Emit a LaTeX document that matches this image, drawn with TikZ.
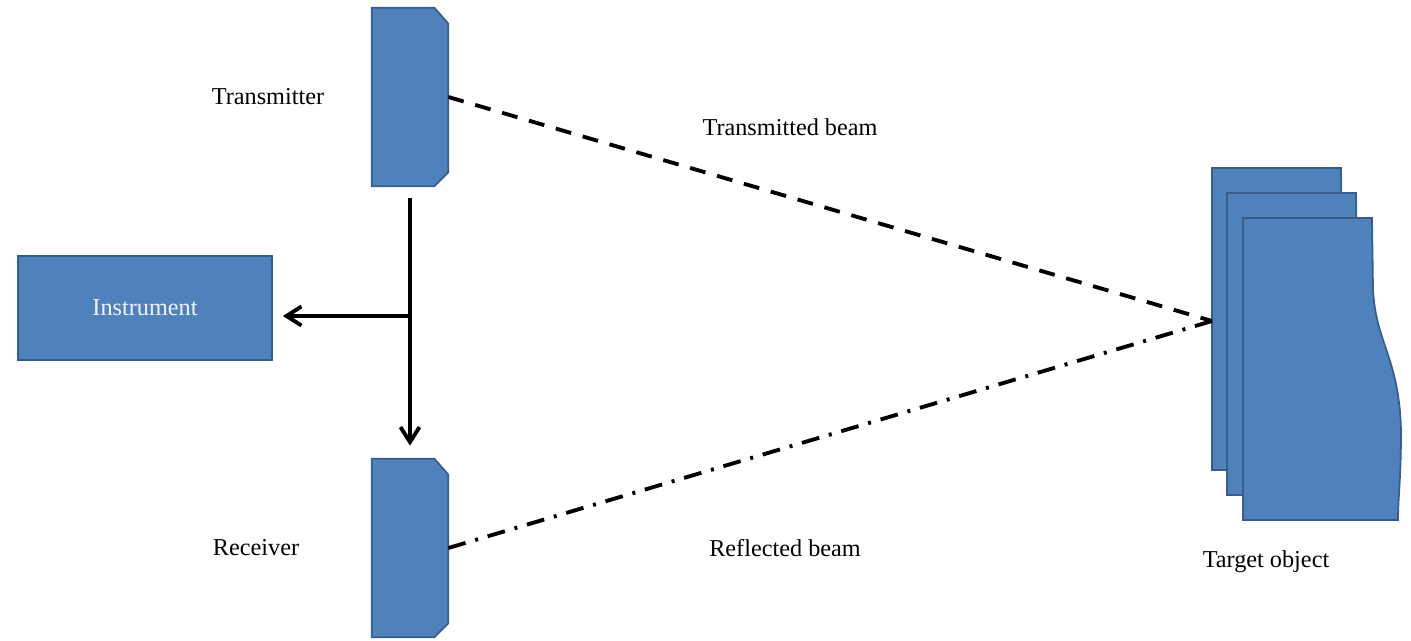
\documentclass[tikz,border=0pt]{standalone}
\usepackage{fontspec}
\setmainfont{Liberation Serif}
\usetikzlibrary{positioning, arrows.meta}
\definecolor{boxblue}{RGB}{79,129,189}
\definecolor{boxedge}{RGB}{56,93,138}
\tikzset{
    every node/.style={font=\fontsize{13.8}{16}\selectfont}, % Times-like labels
    lens/.style={rectangle, minimum width=1.52cm, minimum height=3.56cm, inner sep=0pt}, % sensor heads
    unit/.style={rectangle, draw=boxedge, fill=boxblue, line width=1pt,
        minimum width=5.08cm, minimum height=2.08cm, text=blue!5}, % instrument box
    sheet/.style={draw=boxedge, fill=boxblue, line width=1pt}, % target pages and heads
    signal/.style={line width=2pt, -{Straight Barb[length=0.3cm, width=0.38cm, line width=2.2pt]}},
    outbeam/.style={line width=2.2pt, dash pattern=on 0.32cm off 0.24cm},
    backbeam/.style={line width=2.2pt, dash pattern=on 0.36cm off 0.2cm on 0.06cm off 0.2cm},
}

\begin{document}
\begin{tikzpicture}[x=0.02cm, y=-0.02cm]
    \useasboundingbox (0,0) rectangle (1411,640);

    \node[lens] (tx) at (410,97) {};
    \node[lens] (rx) at (410,548) {};
    % chamfered outline of both heads
    \foreach \n in {tx, rx} {
        \filldraw[sheet] (\n.north west) -- ([xshift=-0.28cm]\n.north east)
            -- ([yshift=-0.32cm]\n.north east) -- ([yshift=0.28cm]\n.south east)
            -- ([xshift=-0.28cm]\n.south east) -- (\n.south west) -- cycle;
    }
    \node[unit] (ins) at (145,308) {Instrument};

    \node (txlabel) at (268,97) {Transmitter};
    \node (rxlabel) at (256,548) {Receiver};
    \node (outlabel) at (790,127) {Transmitted beam};
    \node (backlabel) at (785,548) {Reflected beam};

    % target object: three stacked sheets
    \foreach \dx/\dy in {0/0, 15/25, 31/50} {
        \filldraw[sheet, shift={(1212+\dx,168+\dy)}]
            (0,0) -- (129,0) -- (130,70) .. controls (132,125) and (157,140) .. (158,215)
            .. controls (158,260) and (155,280) .. (155,302) -- (0,302) -- cycle;
    }
    \node (tgtlabel) at (1266,562) {Target object};
    \coordinate (hit) at (1212,321);

    \path[outbeam] (tx.east) edge (hit);
    \path[backbeam] (rx.east) edge (hit);

    \coordinate (fork) at (tx.center |- 0,316);
    \path[signal]
        (tx) edge[shorten <=0.24cm, shorten >=0.26cm] (rx)
        (fork) edge[shorten >=0.2cm] (ins.east |- fork);
\end{tikzpicture}
\end{document}
